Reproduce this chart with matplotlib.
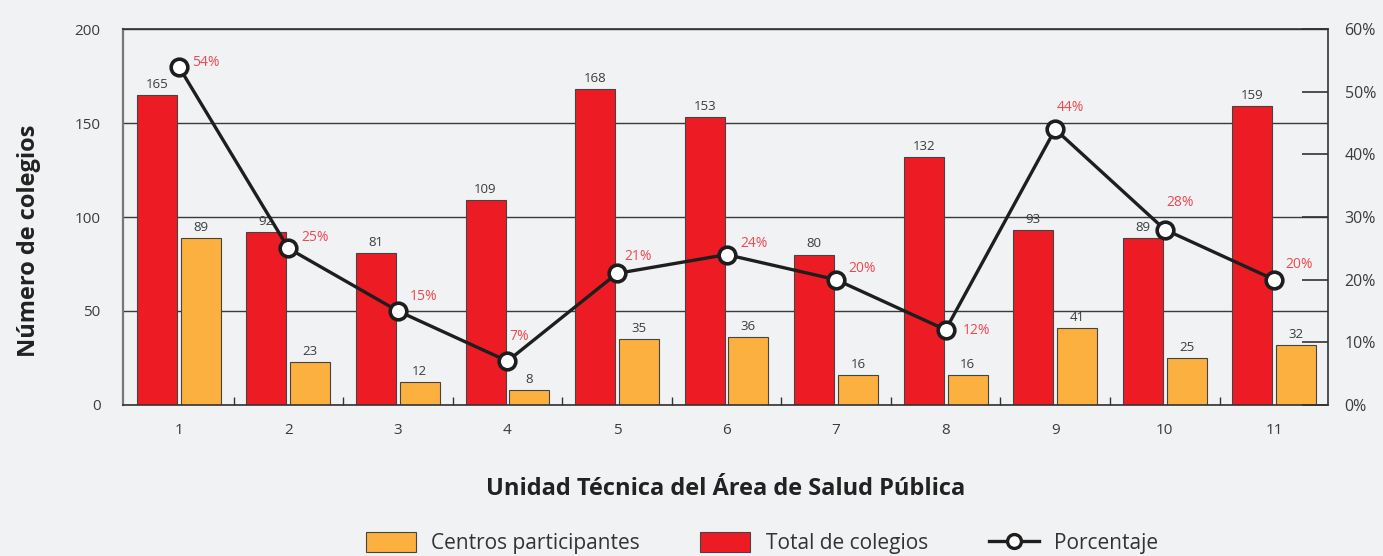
"""Colegios por Unidad Técnica del Área de Salud Pública."""
import matplotlib
matplotlib.use("Agg")
import matplotlib.pyplot as plt
import numpy as np
from matplotlib.lines import Line2D
from matplotlib.patches import Patch

plt.rcParams["font.family"] = ["Open Sans", "DejaVu Sans"]

units = ["1", "2", "3", "4", "5", "6", "7", "8", "9", "10", "11"]
total_colegios = [165, 92, 81, 109, 168, 153, 80, 132, 93, 89, 159]
centros_participantes = [89, 23, 12, 8, 35, 36, 16, 16, 41, 25, 32]
porcentaje = [54, 25, 15, 7, 21, 24, 20, 12, 44, 28, 20]

# label offsets (pixels) for the percentage annotations
pct_offsets = [(13, 4), (13, 11), (12, 14), (2, 25), (7, 17), (14, 11), (12, 11),
               (17, -1), (2, 22), (2, 27), (11, 15)]

BG = "#f1f2f4"
RED = "#ed1c24"
ORANGE = "#fbb040"
TEXT = "#3c3c3c"
PCT = "#ef4950"

fig = plt.figure(figsize=(13.83, 5.56), dpi=100)
fig.set_facecolor(BG)
ax = fig.add_axes([0.0889, 0.2716, 0.8713, 0.6762])
ax.set_facecolor(BG)

x = np.arange(1, len(units) + 1)
w = 0.365
b1 = ax.bar(x - 0.2, total_colegios, w, color=RED, edgecolor="#444444", linewidth=0.8, zorder=2)
b2 = ax.bar(x + 0.2, centros_participantes, w, color=ORANGE, edgecolor="#444444", linewidth=0.8, zorder=2)
for bars in (b1, b2):
    for r in bars:
        ax.annotate(f"{int(r.get_height())}", (r.get_x() + r.get_width() / 2, r.get_height()),
                    xytext=(0, 3), textcoords="offset points", ha="center", va="bottom",
                    fontsize=9.5, color=TEXT)

ax.set_xlim(0.49, 11.49)
ax.set_ylim(0, 200)
ax.set_yticks([0, 50, 100, 150, 200])
ax.yaxis.grid(True, color="#3a3a3a", linewidth=1.0, zorder=1)
ax.set_axisbelow(True)
ax.tick_params(axis="y", length=0, pad=16, labelsize=11, labelcolor=TEXT)
ax.set_xticks(x)
ax.set_xticklabels(units)
ax.set_xticks(np.arange(1.5, 11.5, 1), minor=True)
ax.tick_params(axis="x", which="major", length=0, pad=13, labelsize=11, labelcolor=TEXT)
ax.tick_params(axis="x", which="minor", direction="in", length=6, width=1, color="#333333")

for side in ("top", "right", "bottom"):
    ax.spines[side].set_color("#333333")
    ax.spines[side].set_linewidth(1.2)
ax.spines["left"].set_color("#777777")
ax.spines["left"].set_linewidth(1.6)

ax.set_ylabel("Número de colegios", fontsize=17, fontweight="bold", color="#222222")
ax.yaxis.set_label_coords(-0.068, 0.436)
ax.set_xlabel("Unidad Técnica del Área de Salud Pública", fontsize=17, fontweight="bold",
              color="#222222", labelpad=28)

ax2 = ax.twinx()
ax2.set_ylim(0, 60)
ax2.set_yticks(np.arange(0, 61, 10))
ax2.set_yticklabels([f"{v}%" for v in range(0, 61, 10)])
ax2.tick_params(axis="y", direction="in", length=19, width=1.2, color="#333333",
                pad=12, labelsize=11.5, labelcolor=TEXT)
for s in ax2.spines.values():
    s.set_visible(False)
ax2.plot(x, porcentaje, color="#1e1e1e", linewidth=2.4, marker="o", markersize=12,
         markerfacecolor="white", markeredgecolor="#1e1e1e", markeredgewidth=2.6, zorder=3)
for xi, p, off in zip(x, porcentaje, pct_offsets):
    ax2.annotate(f"{p}%", (xi, p), xytext=off, textcoords="offset pixels",
                 ha="left", va="center", fontsize=10, color=PCT)

handles = [
    Patch(facecolor=ORANGE, edgecolor="#444444", linewidth=0.8),
    Patch(facecolor=RED, edgecolor="#444444", linewidth=0.8),
    Line2D([], [], color="#1e1e1e", linewidth=2.4, marker="o", markersize=10,
           markerfacecolor="white", markeredgecolor="#1e1e1e", markeredgewidth=2.4),
]
fig.legend(handles, ["Centros participantes", "Total de colegios", "Porcentaje"],
           loc="lower center", bbox_to_anchor=(0.551, -0.031), ncol=3, frameon=False,
           fontsize=15, handlelength=2.4, handleheight=1.1, columnspacing=2.9,
           handletextpad=0.75, labelcolor="#333333")

fig.savefig("out.png", dpi=100, facecolor=fig.get_facecolor())
